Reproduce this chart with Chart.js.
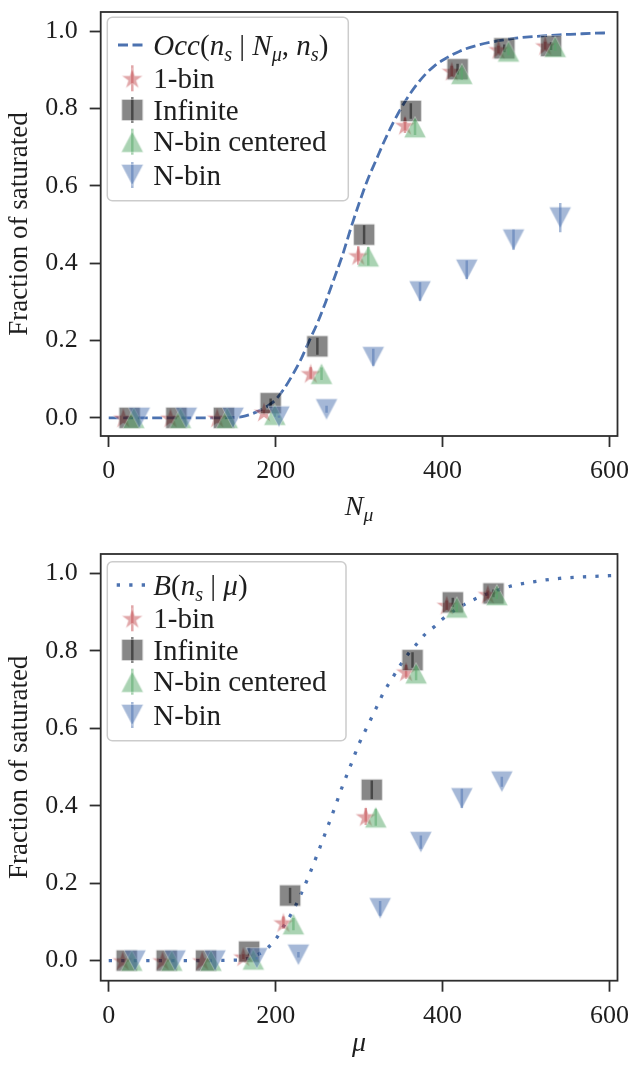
<!DOCTYPE html>
<html>
<head>
<meta charset="utf-8">
<script src="https://cdn.jsdelivr.net/npm/chart.js@4"></script>
<style>
html, body { margin: 0; padding: 0; background: #fff; }
#wrap { position: relative; width: 632px; height: 1065px; }
canvas { position: absolute; left: 0; }
#occChart { top: 0; }
#binChart { top: 532px; }
</style>
</head>
<body>
<div id="wrap">
<canvas id="occChart" width="632" height="532"></canvas>
<canvas id="binChart" width="632" height="533"></canvas>
</div>
<script>
// ---- upper panel: saturation vs N_mu ----
const occN = [0, 40, 80, 120, 150, 160, 170, 180, 190, 200, 210, 220, 230, 240, 250, 260, 270, 280, 290, 300, 310, 320, 330, 340, 350, 360, 370, 380, 390, 400, 420, 440, 460, 480, 500, 520, 540, 560, 580, 600];
const occFrac = [0, 0, 0, 0, 0.001, 0.003, 0.009, 0.018, 0.03, 0.047, 0.075, 0.11, 0.15, 0.198, 0.245, 0.30, 0.36, 0.42, 0.49, 0.555, 0.615, 0.665, 0.715, 0.76, 0.80, 0.835, 0.865, 0.89, 0.91, 0.925, 0.948, 0.963, 0.973, 0.98, 0.985, 0.988, 0.991, 0.993, 0.995, 0.996];

const nMuOneBin = [17.5, 74, 130, 186, 242, 299, 355, 411, 467, 523];
const fracOneBinTop = [0, 0, 0, 0.015, 0.115, 0.42, 0.757, 0.897, 0.953, 0.963];
const errOneBinTop = [0, 0, 0, 0.006, 0.016, 0.024, 0.02, 0.014, 0.01, 0.01];

const nMuInfinite = [25, 81, 138, 194, 250, 306, 362, 418, 474, 530];
const fracInfiniteTop = [0, 0, 0, 0.038, 0.185, 0.474, 0.794, 0.902, 0.956, 0.962];
const errInfiniteTop = [0, 0, 0, 0.012, 0.022, 0.024, 0.02, 0.014, 0.01, 0.01];

const nMuCentered = [30, 86, 142, 199, 255, 311, 367, 423, 479, 535];
const fracCenteredTop = [0, 0, 0, 0.008, 0.114, 0.418, 0.752, 0.89, 0.948, 0.96];
const errCenteredTop = [0, 0, 0, 0.005, 0.016, 0.024, 0.02, 0.015, 0.01, 0.01];

const nMuNBin = [36.7, 93, 149, 204, 261, 317, 373, 429, 485, 541];
const fracNBinTop = [0, 0, 0, 0.003, 0.022, 0.157, 0.327, 0.383, 0.461, 0.518];
const errNBinTop = [0, 0, 0, 0.003, 0.009, 0.022, 0.024, 0.024, 0.026, 0.038];

// ---- lower panel: saturation vs mu ----
const binMu = [0, 40, 80, 120, 150, 160, 170, 180, 190, 200, 210, 220, 230, 240, 250, 260, 270, 280, 290, 300, 310, 320, 330, 340, 350, 360, 370, 380, 390, 400, 420, 440, 460, 480, 500, 520, 540, 560, 580, 600, 615];
const binFrac = [0, 0, 0, 0, 0.001, 0.002, 0.008, 0.017, 0.032, 0.055, 0.09, 0.125, 0.17, 0.22, 0.275, 0.332, 0.39, 0.45, 0.505, 0.56, 0.605, 0.65, 0.695, 0.73, 0.765, 0.795, 0.82, 0.845, 0.862, 0.882, 0.912, 0.935, 0.952, 0.966, 0.975, 0.982, 0.987, 0.99, 0.992, 0.994, 0.995];

const muOneBin = [16.7, 64.5, 112, 161.3, 209.3, 308, 356.3, 405, 454.2];
const fracOneBinBot = [0, 0, 0, 0.01, 0.098, 0.372, 0.746, 0.918, 0.946];
const errOneBinBot = [0, 0, 0, 0.006, 0.016, 0.022, 0.018, 0.012, 0.01];

const muInfinite = [21.6, 69.5, 116.6, 168.2, 217.3, 315.2, 364, 412.3, 461];
const fracInfiniteBot = [0, 0, 0, 0.023, 0.168, 0.441, 0.776, 0.925, 0.948];
const errInfiniteBot = [0, 0, 0, 0.01, 0.02, 0.024, 0.02, 0.012, 0.01];

const muCentered = [27.6, 75.5, 122.5, 173.3, 221.3, 320, 368.3, 417, 465];
const fracCenteredBot = [0, 0, 0, 0.003, 0.094, 0.37, 0.742, 0.912, 0.944];
const errCenteredBot = [0, 0, 0, 0.004, 0.016, 0.022, 0.018, 0.012, 0.01];

const muNBin = [31.5, 79.5, 127.4, 177.4, 227.3, 325.2, 374, 423.1, 471];
const fracNBinBot = [0, 0, 0, 0.006, 0.015, 0.135, 0.306, 0.419, 0.462];
const errNBinBot = [0, 0, 0, 0.003, 0.007, 0.019, 0.017, 0.025, 0.013];

const seriesNames = ['1-bin', 'Infinite', 'N-bin centered', 'N-bin'];
const xTicks = [0, 200, 400, 600];
const yTicks = [0, 0.2, 0.4, 0.6, 0.8, 1.0];
const yTitle = 'Fraction of saturated';

const SERIF = '"Liberation Serif"';
const INK = '#1e1e1e';
const FRAME = '#2e2e2e';
const LINE_BLUE = '#4c72b0';

const colors = {
  star: 'rgba(196,78,82,0.5)',
  square: 'rgba(0,0,0,0.47)',
  up: 'rgba(85,168,104,0.5)',
  down: 'rgba(76,114,176,0.5)'
};

// marker glyphs drawn once on small canvases and reused as pointStyle
function markerCanvas(kind) {
  const c = document.createElement('canvas');
  c.width = 26; c.height = 26;
  const g = c.getContext('2d');
  const m = 13;
  g.beginPath();
  if (kind === 'square') {
    g.rect(m - 10.5, m - 10.5, 21, 21);
  } else if (kind === 'up') {
    g.moveTo(m, m - 10.5); g.lineTo(m + 11, m + 10.5); g.lineTo(m - 11, m + 10.5); g.closePath();
  } else if (kind === 'down') {
    g.moveTo(m, m + 10.5); g.lineTo(m + 11, m - 10.5); g.lineTo(m - 11, m - 10.5); g.closePath();
  } else {
    const R = 11, r = R * 0.382;
    for (let i = 0; i < 10; i++) {
      const rad = (i % 2 === 0 ? R : r);
      const a = -Math.PI / 2 + i * Math.PI / 5;
      const px = m + rad * Math.cos(a), py = m + 0.9 + rad * Math.sin(a);
      if (i === 0) g.moveTo(px, py); else g.lineTo(px, py);
    }
    g.closePath();
  }
  g.fillStyle = colors[kind];
  g.fill();
  g.lineWidth = 1;
  g.strokeStyle = 'rgba(255,255,255,0.35)';
  g.stroke();
  return c;
}
const markers = {
  star: markerCanvas('star'),
  square: markerCanvas('square'),
  up: markerCanvas('up'),
  down: markerCanvas('down')
};

function pts(xs, ys) {
  return xs.map((x, i) => ({ x: x, y: ys[i] }));
}

function pointSet(label, kind, xs, ys, errs, order) {
  return {
    label: label,
    data: pts(xs, ys),
    errY: errs,
    errColor: colors[kind],
    pointStyle: markers[kind],
    pointRadius: 11,
    pointHoverRadius: 11,
    showLine: false,
    order: order
  };
}

function fontOf(r, size) {
  const fs = Math.round((r.sub ? size * 0.7 : size) * 10) / 10;
  return (r.it ? 'italic ' : '') + fs + 'px ' + SERIF;
}

function drawRuns(ctx, runs, x, y, size) {
  for (const r of runs) {
    ctx.font = fontOf(r, size);
    ctx.fillText(r.t, x, y + (r.sub ? size * 0.22 : 0));
    x += ctx.measureText(r.t).width;
  }
  return x;
}

function runsWidth(ctx, runs, size) {
  let w = 0;
  for (const r of runs) {
    ctx.font = fontOf(r, size);
    w += ctx.measureText(r.t).width;
  }
  return w;
}

// vertical error bars, drawn right after each point dataset
const errorBars = {
  id: 'errorBars',
  afterDatasetDraw(chart, args) {
    const ds = chart.data.datasets[args.index];
    if (!ds.errY) return;
    const ctx = chart.ctx;
    const ys = chart.scales.y;
    const a = chart.chartArea;
    ctx.save();
    ctx.beginPath();
    ctx.rect(a.left, a.top, a.right - a.left, a.bottom - a.top);
    ctx.clip();
    ctx.strokeStyle = ds.errColor;
    ctx.lineWidth = 2.5;
    args.meta.data.forEach((el, i) => {
      const e = ds.errY[i];
      if (!e) return;
      const v = ds.data[i].y;
      ctx.beginPath();
      ctx.moveTo(el.x, ys.getPixelForValue(v - e));
      ctx.lineTo(el.x, ys.getPixelForValue(v + e));
      ctx.stroke();
    });
    ctx.restore();
  }
};

// axes frame, axis titles and the legend box
const decorations = {
  id: 'decorations',
  afterDraw(chart, args, opts) {
    const ctx = chart.ctx;
    const a = chart.chartArea;
    ctx.save();
    ctx.strokeStyle = FRAME;
    ctx.lineWidth = 1.8;
    ctx.strokeRect(a.left, a.top, a.right - a.left, a.bottom - a.top);

    // x title (with subscript)
    ctx.fillStyle = INK;
    ctx.textBaseline = 'alphabetic';
    ctx.textAlign = 'left';
    const tw = runsWidth(ctx, opts.xTitle, 28);
    drawRuns(ctx, opts.xTitle, (a.left + a.right) / 2 - tw / 2, opts.xTitleBase, 28);

    // y title
    ctx.save();
    ctx.translate(opts.yTitleX, (a.top + a.bottom) / 2);
    ctx.rotate(-Math.PI / 2);
    ctx.font = '27px ' + SERIF;
    ctx.textAlign = 'center';
    ctx.textBaseline = 'middle';
    ctx.fillText(yTitle, 0, 0);
    ctx.restore();

    // legend
    const b = opts.box;
    ctx.beginPath();
    ctx.roundRect(b[0], b[1], b[2], b[3], 5);
    ctx.fillStyle = 'rgba(255,255,255,0.85)';
    ctx.fill();
    ctx.strokeStyle = '#cccccc';
    ctx.lineWidth = 1.5;
    ctx.stroke();

    const rows = opts.rows;
    const hx = 132.3, tx = 153.3, fs = 29;
    ctx.strokeStyle = LINE_BLUE;
    ctx.lineWidth = opts.lineWidth;
    ctx.setLineDash(opts.dash);
    ctx.beginPath();
    ctx.moveTo(opts.lineSpan[0], rows[0]);
    ctx.lineTo(opts.lineSpan[1], rows[0]);
    ctx.stroke();
    ctx.setLineDash([]);
    ctx.fillStyle = INK;
    drawRuns(ctx, opts.curveLabel, tx, rows[0] + 9.5, fs);

    const kinds = ['star', 'square', 'up', 'down'];
    kinds.forEach((k, i) => {
      const y = rows[i + 1];
      ctx.strokeStyle = colors[k];
      ctx.lineWidth = 2.5;
      ctx.beginPath();
      ctx.moveTo(hx, y - 13);
      ctx.lineTo(hx, y + 13);
      ctx.stroke();
      const m = markers[k];
      ctx.drawImage(m, hx - m.width / 2, y - m.height / 2);
      ctx.fillStyle = INK;
      ctx.font = fs + 'px ' + SERIF;
      ctx.fillText(seriesNames[i], tx, y + 9.5);
    });
    ctx.restore();
  }
};

function buildOptions(yMin, layoutTop, xHeight, deco) {
  const tickFont = { family: SERIF, size: 26 };
  return {
    responsive: false,
    animation: false,
    layout: { padding: { left: 0, right: 14.5, top: layoutTop, bottom: 0 } },
    plugins: { legend: { display: false }, tooltip: { enabled: false }, decorations: deco },
    scales: {
      x: {
        type: 'linear',
        min: -9.6,
        max: 609.6,
        afterBuildTicks: s => { s.ticks = xTicks.map(v => ({ value: v })); },
        // fixed box size; no extra room reserved for overhanging labels
        afterFit: s => { s.height = xHeight; s.paddingLeft = 0; s.paddingRight = 0; },
        ticks: { font: tickFont, color: INK, padding: 9, autoSkip: false, maxRotation: 0, callback: v => String(v) },
        grid: { drawOnChartArea: false, drawTicks: true, tickLength: 11, tickWidth: 1.8, tickColor: FRAME },
        border: { display: false }
      },
      y: {
        type: 'linear',
        min: yMin,
        max: 1.05,
        afterBuildTicks: s => { s.ticks = yTicks.map(v => ({ value: v })); },
        afterFit: s => { s.width = 100.7; s.paddingTop = 0; s.paddingBottom = 0; },
        ticks: { font: tickFont, color: INK, padding: 12, callback: v => v.toFixed(1) },
        grid: { drawOnChartArea: false, drawTicks: true, tickLength: 11, tickWidth: 1.8, tickColor: FRAME },
        border: { display: false }
      }
    }
  };
}

new Chart(document.getElementById('occChart'), {
  type: 'scatter',
  data: {
    datasets: [
      {
        label: 'Occ',
        data: pts(occN, occFrac),
        showLine: true,
        borderColor: LINE_BLUE,
        borderWidth: 2.8,
        borderDash: [10, 4.5],
        pointRadius: 0,
        cubicInterpolationMode: 'monotone',
        order: 5
      },
      pointSet(seriesNames[0], 'star', nMuOneBin, fracOneBinTop, errOneBinTop, 4),
      pointSet(seriesNames[1], 'square', nMuInfinite, fracInfiniteTop, errInfiniteTop, 3),
      pointSet(seriesNames[2], 'up', nMuCentered, fracCenteredTop, errCenteredTop, 2),
      pointSet(seriesNames[3], 'down', nMuNBin, fracNBinTop, errNBinTop, 1)
    ]
  },
  options: buildOptions(-0.047, 10.7, 96, {
    xTitle: [{ t: 'N', it: true }, { t: 'μ', it: true, sub: true }],
    xTitleBase: 515,
    yTitleX: 20,
    box: [107.3, 17.3, 241, 183.4],
    rows: [45, 78.3, 110, 141.7, 175],
    lineSpan: [118, 143],
    lineWidth: 2.8,
    dash: [10, 4.5],
    curveLabel: [
      { t: 'Occ', it: true }, { t: '(' }, { t: 'n', it: true }, { t: 's', it: true, sub: true },
      { t: ' | ' }, { t: 'N', it: true }, { t: 'μ', it: true, sub: true }, { t: ', ' },
      { t: 'n', it: true }, { t: 's', it: true, sub: true }, { t: ')' }
    ]
  }),
  plugins: [errorBars, decorations]
});

new Chart(document.getElementById('binChart'), {
  type: 'scatter',
  data: {
    datasets: [
      {
        label: 'B',
        data: pts(binMu, binFrac),
        showLine: true,
        borderColor: LINE_BLUE,
        borderWidth: 3.3,
        borderDash: [3.3, 9.2],
        pointRadius: 0,
        cubicInterpolationMode: 'monotone',
        order: 5
      },
      pointSet(seriesNames[0], 'star', muOneBin, fracOneBinBot, errOneBinBot, 4),
      pointSet(seriesNames[1], 'square', muInfinite, fracInfiniteBot, errInfiniteBot, 3),
      pointSet(seriesNames[2], 'up', muCentered, fracCenteredBot, errCenteredBot, 2),
      pointSet(seriesNames[3], 'down', muNBin, fracNBinBot, errNBinBot, 1)
    ]
  },
  options: buildOptions(-0.052, 22, 84.3, {
    xTitle: [{ t: 'μ', it: true }],
    xTitleBase: 519,
    yTitleX: 20,
    box: [107.3, 29.7, 238.7, 179],
    rows: [53, 86.3, 118, 149.7, 183],
    lineSpan: [116.7, 145],
    lineWidth: 3.3,
    dash: [3.3, 9.2],
    curveLabel: [
      { t: 'B', it: true }, { t: '(' }, { t: 'n', it: true }, { t: 's', it: true, sub: true },
      { t: ' | ' }, { t: 'μ', it: true }, { t: ')' }
    ]
  }),
  plugins: [errorBars, decorations]
});
</script>
</body>
</html>
